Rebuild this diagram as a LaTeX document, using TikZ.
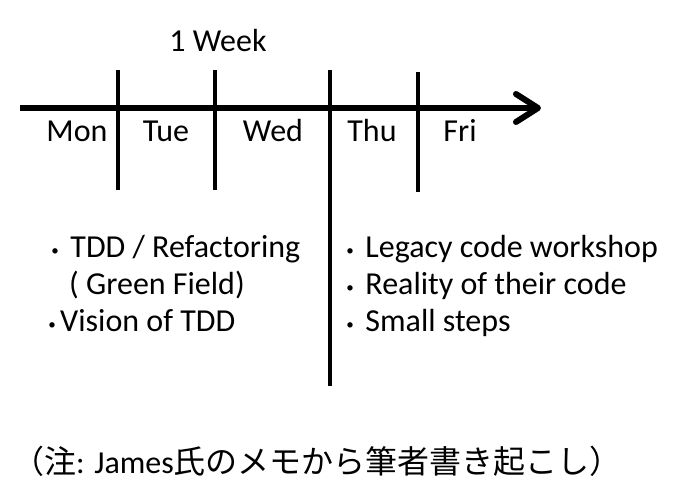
\documentclass[tikz,border=0pt]{standalone}
\usepackage{fontspec}
\setmainfont{Carlito}
\newfontfamily\cjk{Noto Sans CJK JP}
\usetikzlibrary{arrows.meta}

\newcommand{\dotmark}{\raisebox{-6pt}{\cjk ･}}

\begin{document}
\begin{tikzpicture}[
        x=1pt, y=-1pt,
        txt/.style={inner sep=0pt, font=\fontsize{32}{37}\selectfont},
        day/.style={txt, anchor=base},
        item/.style={txt, anchor=base west},
        axis/.style={line width=6pt, -{Straight Barb[length=22pt, width=28pt, round]}},
        tick/.style={line width=4pt}
    ]
    \useasboundingbox (0,0) rectangle (681,497);

    % time axis
    \coordinate (start) at (20,108);
    \coordinate (end) at (541,108);
    \draw[axis] (start) -- (end);

    % day separators
    \draw[tick] (118,70) -- (118,190);
    \draw[tick] (215,70) -- (215,190);
    \draw[tick] (330,70) -- (330,386);
    \draw[tick] (418,72) -- (418,192);

    \node[day] (week) at (218,52) {1 Week};
    \node[day] (mon) at (77,142) {Mon};
    \node[day] (tue) at (166,142) {Tue};
    \node[day] (wed) at (273,142) {Wed};
    \node[day] (thu) at (372,142) {Thu};
    \node[day] (fri) at (460,142) {Fri};

    % first half of the week
    \node[item] (tdd) at (47,258) {\dotmark{} TDD / Refactoring};
    \node[item] (green) at (69,295) {( Green Field)};
    \node[item] (vision) at (44,332) {\dotmark{}Vision of TDD};

    % second half of the week
    \node[item] (legacy) at (342,258) {\dotmark{} Legacy code workshop};
    \node[item] (reality) at (342,295) {\dotmark{} Reality of their code};
    \node[item] (small) at (342,332) {\dotmark{} Small steps};

    \node[day] (note) at (317,474) {{\cjk （注}: James{\cjk 氏のメモから筆者書き起こし）}};
\end{tikzpicture}
\end{document}
